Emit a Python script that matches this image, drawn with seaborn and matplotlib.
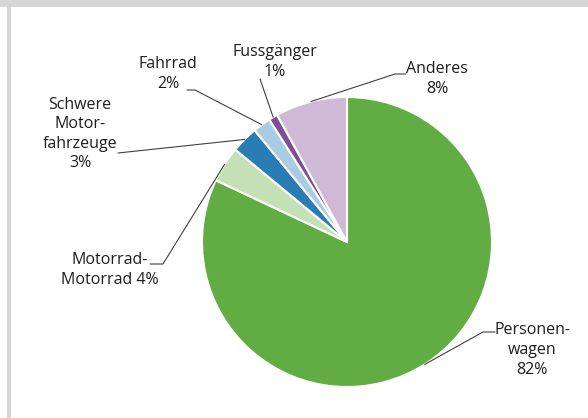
import numpy as np
import matplotlib
matplotlib.use("Agg")
import matplotlib.pyplot as plt
import seaborn as sns
from matplotlib.patches import Rectangle
from matplotlib import font_manager

sns.set_theme(style="white")

names = [f.name for f in font_manager.fontManager.ttflist]
fam = "Liberation Sans Narrow" if "Liberation Sans Narrow" in names else "Open Sans"
plt.rcParams["font.family"] = [fam, "DejaVu Sans"]

categories = ["Personenwagen", "Motorrad", "Schwere Motorfahrzeuge", "Fahrrad", "Fussgänger", "Anderes"]
values = [82, 4, 3, 2, 1, 8]
labels = ["Personen-\nwagen\n82%", "Motorrad-\nMotorrad 4%", "Schwere\nMotor-\nfahrzeuge\n3%",
          "Fahrrad\n2%", "Fussgänger\n1%", "Anderes\n8%"]
colors = ["#62ad43", "#c4e0b4", "#2a7db4", "#a9cce2", "#7f4f93", "#cfb9d7"]

# label layout in pixel coords: text center, elbow point, line end
text_pos = [(532, 350), (110, 270), (80, 134), (168, 74), (275, 62), (437, 79)]
elbow = [(483, 332), (163, 264), (118, 153), (195, 90), (260, 79), (395, 74)]
line_end = [(495, 332), (150, 264), (118, 153), (187, 90), (260, 79), (406, 74)]

W, H = 588, 418
cx, cy, R = 347, 242, 145

fig = plt.figure(figsize=(W / 100, H / 100), dpi=100)
fig.patch.set_facecolor("white")
fig.patches.append(Rectangle((0, (H - 7) / H), 1, 7 / H, transform=fig.transFigure,
                             facecolor="#d6d6d6", edgecolor="none", zorder=0))
fig.patches.append(Rectangle((7 / W, 0), 4 / W, 1, transform=fig.transFigure,
                             facecolor="#d6d6d6", edgecolor="none", zorder=0))

ax = fig.add_axes([(cx - R) / W, (H - cy - R) / H, 2 * R / W, 2 * R / H])
wedges, _ = ax.pie(values, colors=colors, startangle=90, counterclock=False,
                   wedgeprops=dict(edgecolor="white", linewidth=1.5))
ax.set_xlim(-1, 1)
ax.set_ylim(-1, 1)
ax.set_aspect("auto")
ax.axis("off")

def px2d(p):
    return ((p[0] - cx) / R, (cy - p[1]) / R)

for w, lab, tp, el, le in zip(wedges, labels, text_pos, elbow, line_end):
    mid = np.deg2rad((w.theta1 + w.theta2) / 2)
    sx, sy = np.cos(mid) * 1.0, np.sin(mid) * 1.0
    ex, ey = px2d(el)
    lx, ly = px2d(le)
    ax.plot([sx, ex, lx], [sy, ey, ly], color="#404040", lw=0.8, clip_on=False, zorder=5)
    tx, ty = px2d(tp)
    ax.text(tx, ty, lab, ha="center", va="center", fontsize=11.5, color="#1e1e1e",
            linespacing=1.3, clip_on=False)

fig.savefig("out.png", dpi=100, facecolor="white")
